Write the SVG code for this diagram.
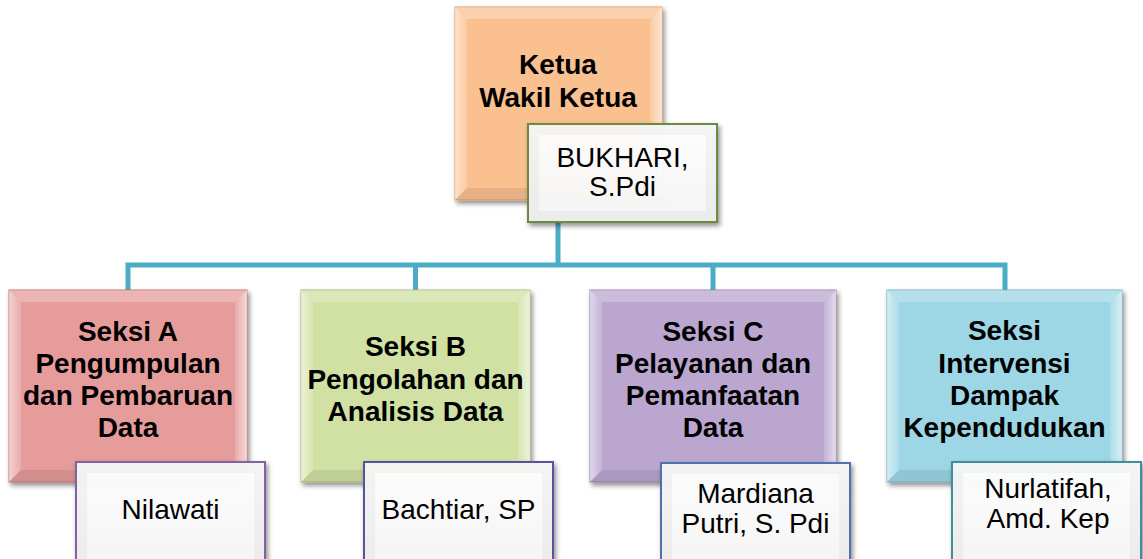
<svg xmlns="http://www.w3.org/2000/svg" width="1143" height="559" viewBox="0 0 1143 559">
<defs>
  <filter id="sh" x="-10%" y="-10%" width="125%" height="125%">
    <feDropShadow dx="2" dy="3" stdDeviation="2.5" flood-color="#000" flood-opacity="0.45"/>
  </filter>
  <linearGradient id="nameFill" x1="0" y1="0" x2="0" y2="1">
    <stop offset="0" stop-color="#ffffff"/>
    <stop offset="1" stop-color="#f6f6f6"/>
  </linearGradient>
  <linearGradient id="lt" x1="0" y1="0" x2="1" y2="0">
    <stop offset="0" stop-color="#fff" stop-opacity="0.55"/>
    <stop offset="1" stop-color="#fff" stop-opacity="0.15"/>
  </linearGradient>
  <linearGradient id="rt" x1="0" y1="0" x2="1" y2="0">
    <stop offset="0" stop-color="#fff" stop-opacity="0.15"/>
    <stop offset="1" stop-color="#fff" stop-opacity="0.6"/>
  </linearGradient>
</defs>
<style>
  .conn { fill: none; stroke: #4BACC6; stroke-width: 5; stroke-linejoin: miter; }
  .title { font-family: "Liberation Sans", Arial, sans-serif; font-weight: bold; font-size: 28px; fill: #000; text-anchor: middle; }
  .name { font-family: "Liberation Sans", Arial, sans-serif; font-size: 28px; fill: #000; text-anchor: middle; }
  .topfacet { fill: #fff; fill-opacity: 0.25; }
  .leftfacet { fill: url(#lt); }
  .rightfacet { fill: url(#rt); }
  .botfacet { fill: #000; fill-opacity: 0.08; }
  .nbox { fill: url(#nameFill); fill-opacity: 0.96; stroke-width: 2; }
  .nbev { fill: none; stroke: #000; stroke-opacity: 0.035; stroke-width: 10; }
</style>

<g id="connectors">
  <path class="conn" d="M558 222 V265"/>
  <path class="conn" d="M128 290 V265 H1005 V290"/>
  <path class="conn" d="M415.5 265 V290"/>
  <path class="conn" d="M713 265 V290"/>
</g>

<g id="ketua">
  <rect x="455" y="7" width="207" height="193" fill="#FAC090" stroke="#D9A072" stroke-width="1" filter="url(#sh)"/>
  <polygon class="topfacet" points="455,7 662,7 650,19 467,19"/>
  <polygon class="leftfacet" points="455,7 467,19 467,188 455,200"/>
  <polygon class="rightfacet" points="662,7 662,200 650,188 650,19"/>
  <polygon class="botfacet" points="455,200 662,200 650,188 467,188"/>
  <text class="title" x="558" y="74">Ketua</text>
  <text class="title" x="558" y="107">Wakil Ketua</text>
</g>
<g id="ketua-name">
  <rect class="nbox" x="528" y="124" width="189" height="98" stroke="#6E8B3D" filter="url(#sh)"/>
  <rect class="nbev" x="534" y="130" width="177" height="86"/>
  <text class="name" x="622.5" y="167">BUKHARI,</text>
  <text class="name" x="622.5" y="196">S.Pdi</text>
</g>

<g id="seksi-a">
  <rect x="9" y="290" width="238" height="192" fill="#E59C9B" stroke="#C07574" stroke-width="1" filter="url(#sh)"/>
  <polygon class="topfacet" points="9,290 247,290 235,302 21,302"/>
  <polygon class="leftfacet" points="9,290 21,302 21,470 9,482"/>
  <polygon class="rightfacet" points="247,290 247,482 235,470 235,302"/>
  <polygon class="botfacet" points="9,482 247,482 235,470 21,470"/>
  <text class="title" x="128" y="341">Seksi A</text>
  <text class="title" x="128" y="373">Pengumpulan</text>
  <text class="title" x="128" y="405">dan Pembaruan</text>
  <text class="title" x="128" y="437">Data</text>
</g>
<g id="seksi-a-name">
  <rect class="nbox" x="76" y="462" width="189" height="102" stroke="#8064A2" filter="url(#sh)"/>
  <rect class="nbev" x="82" y="468" width="177" height="96"/>
  <text class="name" x="170.5" y="519">Nilawati</text>
</g>

<g id="seksi-b">
  <rect x="301" y="290" width="229" height="192" fill="#D1E1A3" stroke="#A8B97C" stroke-width="1" filter="url(#sh)"/>
  <polygon class="topfacet" points="301,290 530,290 518,302 313,302"/>
  <polygon class="leftfacet" points="301,290 313,302 313,470 301,482"/>
  <polygon class="rightfacet" points="530,290 530,482 518,470 518,302"/>
  <polygon class="botfacet" points="301,482 530,482 518,470 313,470"/>
  <text class="title" x="415.5" y="356">Seksi B</text>
  <text class="title" x="415.5" y="389">Pengolahan dan</text>
  <text class="title" x="415.5" y="421">Analisis Data</text>
</g>
<g id="seksi-b-name">
  <rect class="nbox" x="364" y="462" width="189" height="102" stroke="#5652A0" filter="url(#sh)"/>
  <rect class="nbev" x="370" y="468" width="177" height="96"/>
  <text class="name" x="458.5" y="519">Bachtiar, SP</text>
</g>

<g id="seksi-c">
  <rect x="590" y="290" width="246" height="192" fill="#BBA6D0" stroke="#9583AC" stroke-width="1" filter="url(#sh)"/>
  <polygon class="topfacet" points="590,290 836,290 824,302 602,302"/>
  <polygon class="leftfacet" points="590,290 602,302 602,470 590,482"/>
  <polygon class="rightfacet" points="836,290 836,482 824,470 824,302"/>
  <polygon class="botfacet" points="590,482 836,482 824,470 602,470"/>
  <text class="title" x="713" y="341">Seksi C</text>
  <text class="title" x="713" y="373">Pelayanan dan</text>
  <text class="title" x="713" y="405">Pemanfaatan</text>
  <text class="title" x="713" y="437">Data</text>
</g>
<g id="seksi-c-name">
  <rect class="nbox" x="661" y="463" width="189" height="101" stroke="#4F72AE" filter="url(#sh)"/>
  <rect class="nbev" x="667" y="469" width="177" height="95"/>
  <text class="name" x="755.5" y="503">Mardiana</text>
  <text class="name" x="755.5" y="533">Putri, S. Pdi</text>
</g>

<g id="seksi-d">
  <rect x="887" y="290" width="235" height="192" fill="#9DD6E5" stroke="#78AEBD" stroke-width="1" filter="url(#sh)"/>
  <polygon class="topfacet" points="887,290 1122,290 1110,302 899,302"/>
  <polygon class="leftfacet" points="887,290 899,302 899,470 887,482"/>
  <polygon class="rightfacet" points="1122,290 1122,482 1110,470 1110,302"/>
  <polygon class="botfacet" points="887,482 1122,482 1110,470 899,470"/>
  <text class="title" x="1004.5" y="340">Seksi</text>
  <text class="title" x="1004.5" y="373">Intervensi</text>
  <text class="title" x="1004.5" y="405">Dampak</text>
  <text class="title" x="1004.5" y="437">Kependudukan</text>
</g>
<g id="seksi-d-name">
  <rect class="nbox" x="952" y="462" width="189" height="102" stroke="#3F8E9C" filter="url(#sh)"/>
  <rect class="nbev" x="958" y="468" width="177" height="96"/>
  <text class="name" x="1048" y="498">Nurlatifah,</text>
  <text class="name" x="1048" y="528">Amd. Kep</text>
</g>
</svg>
